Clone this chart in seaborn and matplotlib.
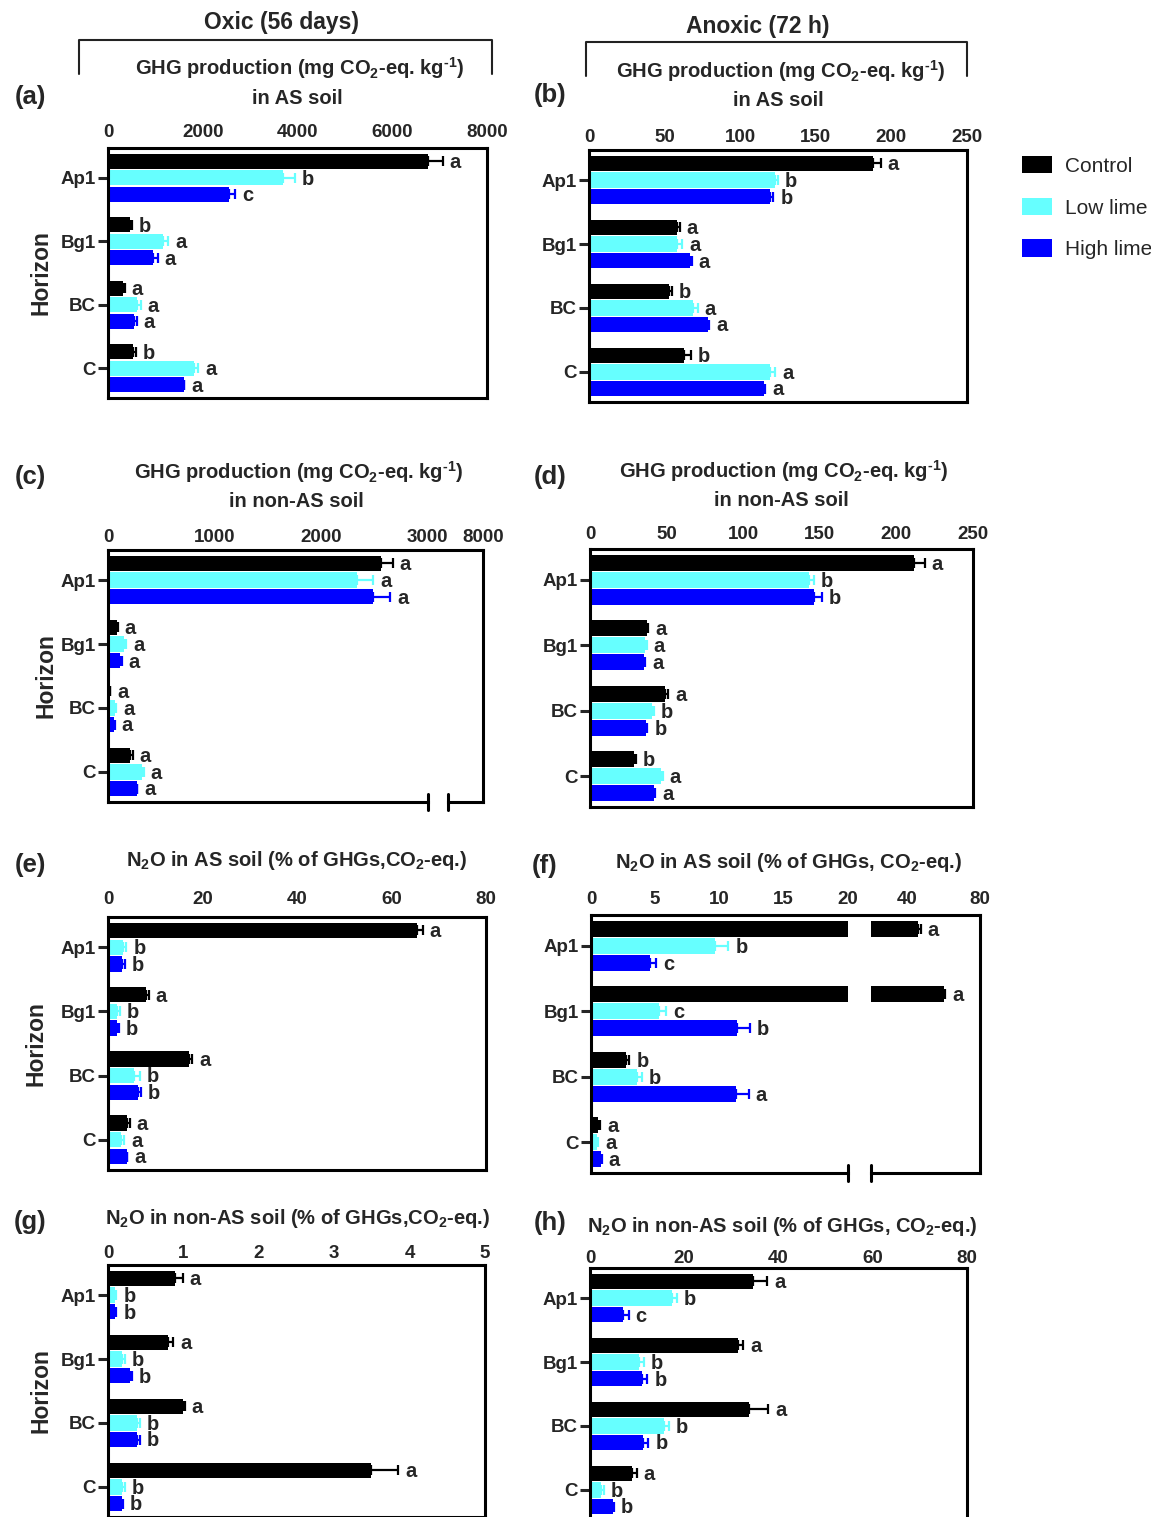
import numpy as np
import pandas as pd
import matplotlib
matplotlib.use("Agg")
import matplotlib.pyplot as plt
import seaborn as sns
from matplotlib.lines import Line2D
from matplotlib.patches import Patch
from matplotlib.container import BarContainer
from matplotlib.transforms import blended_transform_factory

# ---------------- data ----------------
horizons = ["Ap1", "Bg1", "BC", "C"]
treatments = ["Control", "Low lime", "High lime"]
colors = ["#000000", "#66ffff", "#0000ff"]

# (a) Oxic, GHG production, AS soil
a_ctrl = [6745, 465, 324, 536];   a_ctrl_err = [317, 40, 30, 50]
a_low = [3697, 1170, 607, 1806];  a_low_err = [247, 100, 80, 100]
a_high = [2547, 946, 550, 1594];  a_high_err = [141, 100, 60, 20]
a_let = [["a", "b", "a", "b"], ["b", "a", "a", "a"], ["c", "a", "a", "a"]]

# (b) Anoxic, GHG production, AS soil
b_ctrl = [188, 58, 53, 62.5];     b_ctrl_err = [5, 2, 2, 5]
b_low = [123, 58.5, 69, 120];     b_low_err = [2, 3, 3, 3]
b_high = [120, 67, 78.5, 116];    b_high_err = [2, 1, 1, 0.5]
b_let = [["a", "a", "b", "b"], ["b", "a", "a", "a"], ["b", "a", "a", "a"]]

# (c) Oxic, GHG production, non-AS soil
c_ctrl = [2560, 80, 15, 210];     c_ctrl_err = [110, 10, 5, 20]
c_low = [2340, 150, 65, 315];     c_low_err = [150, 20, 10, 20]
c_high = [2485, 110, 55, 270];    c_high_err = [160, 20, 10, 5]
c_let = [["a", "a", "a", "a"], ["a", "a", "a", "a"], ["a", "a", "a", "a"]]

# (d) Anoxic, GHG production, non-AS soil
d_ctrl = [211.5, 37, 49, 29];     d_ctrl_err = [7, 1, 2, 1]
d_low = [143, 36, 40.5, 46.5];    d_low_err = [3, 1, 1, 1]
d_high = [146.5, 35, 36.5, 42];   d_high_err = [5, 1, 1, 0.5]
d_let = [["a", "a", "a", "b"], ["b", "a", "b", "a"], ["b", "a", "b", "a"]]

# (e) Oxic, N2O share, AS soil
e_ctrl = [65.5, 8.0, 17.2, 4.0];  e_ctrl_err = [1.1, 0.6, 0.6, 0.6]
e_low = [3.2, 2.0, 5.5, 2.8];     e_low_err = [0.7, 0.5, 1.2, 0.6]
e_high = [2.9, 1.8, 6.3, 4.0];    e_high_err = [0.6, 0.5, 0.7, 0.1]
e_let = [["a", "a", "a", "a"], ["b", "b", "b", "a"], ["b", "b", "b", "a"]]

# (f) Anoxic, N2O share, AS soil
f_ctrl = [46, 60, 2.7, 0.55];     f_ctrl_err = [1.5, 1.0, 0.3, 0.15]
f_low = [9.7, 5.3, 3.6, 0.45];    f_low_err = [1.0, 0.55, 0.35, 0.1]
f_high = [4.6, 11.4, 11.3, 0.8];  f_high_err = [0.5, 1.0, 1.0, 0.05]
f_let = [["a", "a", "b", "a"], ["b", "c", "b", "a"], ["c", "b", "a", "a"]]

# (g) Oxic, N2O share, non-AS soil
g_ctrl = [0.89, 0.79, 1.0, 3.49]; g_ctrl_err = [0.1, 0.075, 0.02, 0.36]
g_low = [0.09, 0.19, 0.39, 0.19]; g_low_err = [0.02, 0.03, 0.03, 0.03]
g_high = [0.09, 0.29, 0.39, 0.19]; g_high_err = [0.02, 0.03, 0.03, 0.01]
g_let = [["a", "a", "a", "a"], ["b", "b", "b", "b"], ["b", "b", "b", "b"]]

# (h) Anoxic, N2O share, non-AS soil
h_ctrl = [34.5, 31.4, 33.7, 8.9]; h_ctrl_err = [3.1, 1.1, 4.1, 1.0]
h_low = [17.4, 10.3, 15.6, 2.4];  h_low_err = [1.0, 1.1, 1.1, 0.6]
h_high = [7.1, 11.1, 11.3, 4.9];  h_high_err = [1.1, 1.1, 1.1, 0.1]
h_let = [["a", "a", "a", "a"], ["b", "b", "b", "b"], ["c", "b", "b", "b"]]

a_ticks = [0, 2000, 4000, 6000, 8000]
b_ticks = [0, 50, 100, 150, 200, 250]
c_ticks = [0, 1000, 2000, 3000, 8000]
d_ticks = [0, 50, 100, 150, 200, 250]
e_ticks = [0, 20, 40, 60, 80]
f_ticks = [0, 5, 10, 15, 20, 40, 80]
g_ticks = [0, 1, 2, 3, 4, 5]
h_ticks = [0, 20, 40, 60, 80]

ghg1 = "GHG production (mg CO$_2$-eq. kg$^{\\text{-}1}$)"

# ---------------- style ----------------
sns.set_style("white")
plt.rcParams["font.family"] = ["Liberation Sans", "DejaVu Sans"]
plt.rcParams["font.weight"] = "bold"
plt.rcParams["mathtext.fontset"] = "custom"
plt.rcParams["mathtext.rm"] = "Liberation Sans:bold"
plt.rcParams["mathtext.it"] = "Liberation Sans:bold"
plt.rcParams["mathtext.bf"] = "Liberation Sans:bold"
plt.rcParams["mathtext.default"] = "rm"

W, H = 1151, 1517
fig = plt.figure(figsize=(W / 100, H / 100), dpi=100)
fig.patch.set_facecolor("white")

SP_LW = 2.2


def fx(x):
    return x / W


def fy(y):
    return 1 - y / H


def make_break(b, gap, r, eps):
    def fwd(x):
        x = np.asarray(x, dtype=float)
        return np.where(x <= b, x,
                        np.where(x <= b + eps, b + (x - b) * gap / eps,
                                 b + gap + (x - b - eps) * r))

    def inv(y):
        y = np.asarray(y, dtype=float)
        return np.where(y <= b, y,
                        np.where(y <= b + gap, b + (y - b) * eps / gap,
                                 b + eps + (y - b - gap) / r))
    return fwd, inv


panels = [
    dict(ctrl=a_ctrl, low=a_low, high=a_high, errs=(a_ctrl_err, a_low_err, a_high_err),
         lets=a_let, ticks=a_ticks, xmax=8000, box=(108, 148, 487, 398), ylab=41, pad=4.7, brk=None),
    dict(ctrl=b_ctrl, low=b_low, high=b_high, errs=(b_ctrl_err, b_low_err, b_high_err),
         lets=b_let, ticks=b_ticks, xmax=250, box=(589, 150, 967, 402), ylab=None, pad=3.2, brk=None),
    dict(ctrl=c_ctrl, low=c_low, high=c_high, errs=(c_ctrl_err, c_low_err, c_high_err),
         lets=c_let, ticks=c_ticks, xmax=8000, box=(108, 550, 483, 802), ylab=46, pad=3.2,
         brk=(3000, 188, 0.0659, 1.0)),
    dict(ctrl=d_ctrl, low=d_low, high=d_high, errs=(d_ctrl_err, d_low_err, d_high_err),
         lets=d_let, ticks=d_ticks, xmax=250, box=(590, 549, 973, 807), ylab=None, pad=4.0, brk=None),
    dict(ctrl=e_ctrl, low=e_low, high=e_high, errs=(e_ctrl_err, e_low_err, e_high_err),
         lets=e_let, ticks=e_ticks, xmax=80, box=(108, 917, 486, 1170), ylab=36, pad=6.8, brk=None),
    dict(ctrl=f_ctrl, low=f_low, high=f_high, errs=(f_ctrl_err, f_low_err, f_high_err),
         lets=f_let, ticks=f_ticks, xmax=80, box=(591, 915, 980, 1173), ylab=None, pad=4.7,
         brk=(20, 1.8, 0.142, 0.001)),
    dict(ctrl=g_ctrl, low=g_low, high=g_high, errs=(g_ctrl_err, g_low_err, g_high_err),
         lets=g_let, ticks=g_ticks, xmax=5, box=(108, 1265, 485, 1517), ylab=41, pad=1.8, brk=None),
    dict(ctrl=h_ctrl, low=h_low, high=h_high, errs=(h_ctrl_err, h_low_err, h_high_err),
         lets=h_let, ticks=h_ticks, xmax=80, box=(590, 1268, 967, 1520), ylab=None, pad=0.6, brk=None),
]

for p in panels:
    l, t, r, b = p["box"]
    ax = fig.add_axes([fx(l), fy(b), fx(r) - fx(l), fy(t) - fy(b)])
    df = pd.DataFrame({
        "Horizon": horizons * 3,
        "Treatment": [tr for tr in treatments for _ in horizons],
        "Value": list(p["ctrl"]) + list(p["low"]) + list(p["high"]),
    })
    sns.barplot(data=df, x="Value", y="Horizon", hue="Treatment", order=horizons,
                hue_order=treatments, palette=colors, saturation=1, orient="h",
                width=0.78, gap=0.08, errorbar=None, linewidth=0, legend=False, ax=ax)

    if p["brk"] is not None:
        bb, gap, rr, eps = p["brk"]
        fwd, inv = make_break(bb, gap, rr, eps)
        ax.set_xscale("function", functions=(fwd, inv))

    bar_conts = [c for c in ax.containers if isinstance(c, BarContainer)]
    for i, cont in enumerate(bar_conts):
        vals = np.array([bar.get_width() for bar in cont])
        ys = np.array([bar.get_y() + bar.get_height() / 2 for bar in cont])
        err = np.array(p["errs"][i])
        ax.errorbar(vals, ys, xerr=[np.zeros_like(err), err], fmt="none",
                    ecolor=colors[i], elinewidth=1.6, capsize=3.5, capthick=1.6, zorder=3)
        for v, y, e, s in zip(vals, ys, err, p["lets"][i]):
            ax.annotate(s, xy=(v + e, y), xytext=(5, -1), textcoords="offset points",
                        ha="left", va="center", fontsize=14.5, fontweight="bold", zorder=4)

    ax.set_xlim(0, p["xmax"])
    ax.set_ylim(3.47, -0.47)
    ax.xaxis.tick_top()
    ax.set_xticks(p["ticks"])
    ax.set_xticklabels([str(v) for v in p["ticks"]])
    ax.minorticks_off()
    ax.tick_params(axis="x", length=0, pad=p["pad"], labelsize=13.5)
    ax.tick_params(axis="y", length=7, width=2.2, pad=1.5, labelsize=13.5, left=True)
    ax.set_xlabel("")
    for sp in ax.spines.values():
        sp.set_linewidth(SP_LW)
        sp.set_color("black")
        sp.set_visible(True)
    if p["ylab"] is not None:
        ax.set_ylabel("Horizon", fontsize=16.5, fontweight="bold", va="center")
        ax.yaxis.set_label_coords((p["ylab"] - l) / (r - l), 0.5)
    else:
        ax.set_ylabel("")

    if p["brk"] is not None:
        bb, gap, rr, eps = p["brk"]
        ax.axvspan(bb, bb + eps, color="white", zorder=2, lw=0)
        ax.spines["bottom"].set_visible(False)
        trans = blended_transform_factory(ax.transData, ax.transAxes)
        ax.plot([0, bb], [0, 0], transform=trans, color="black", lw=SP_LW,
                clip_on=False, solid_capstyle="projecting", zorder=5)
        ax.plot([bb + eps, p["xmax"]], [0, 0], transform=trans, color="black", lw=SP_LW,
                clip_on=False, solid_capstyle="projecting", zorder=5)
        for xb in (bb, bb + eps):
            ax.plot([xb, xb], [-0.03, 0.03], transform=trans, color="black", lw=SP_LW,
                    clip_on=False, zorder=5)

# ---------------- titles and labels ----------------
titles = [
    (ghg1, 300, 68), ("in AS soil", 297, 98),
    (ghg1, 781, 71), ("in AS soil", 778, 100),
    (ghg1, 299, 472), ("in non-AS soil", 296, 502),
    (ghg1, 784, 471), ("in non-AS soil", 781, 501),
    ("N$_2$O in AS soil (% of GHGs,CO$_2$-eq.)", 297, 860),
    ("N$_2$O in AS soil (% of GHGs, CO$_2$-eq.)", 788, 862),
    ("N$_2$O in non-AS soil (% of GHGs,CO$_2$-eq.)", 297, 1218),
    ("N$_2$O in non-AS soil (% of GHGs, CO$_2$-eq.)", 782, 1227),
]
for s, x, y in titles:
    fig.text(fx(x), fy(y), s, ha="center", va="center", fontsize=14.5, fontweight="bold")

letters = [("(a)", 30, 97), ("(b)", 550, 95), ("(c)", 30, 477), ("(d)", 550, 477),
           ("(e)", 30, 865), ("(f)", 545, 866), ("(g)", 30, 1222), ("(h)", 550, 1223)]
for s, x, y in letters:
    fig.text(fx(x), fy(y), s, ha="center", va="center", fontsize=18.5, fontweight="bold")

fig.text(fx(281), fy(23), "Oxic (56 days)", ha="center", va="center", fontsize=16.5, fontweight="bold")
fig.text(fx(758), fy(26), "Anoxic (72 h)", ha="center", va="center", fontsize=16.5, fontweight="bold")

for (x0, x1, y0, y1) in [(79, 492, 40, 74), (586, 967, 42, 76)]:
    fig.add_artist(Line2D([fx(x0), fx(x0), fx(x1), fx(x1)], [fy(y1), fy(y0), fy(y0), fy(y1)],
                          transform=fig.transFigure, color="#222222", lw=1.5))

handles = [Patch(facecolor=c, edgecolor="none") for c in colors]
fig.legend(handles, treatments, loc="upper left", bbox_to_anchor=(fx(1022), fy(156)),
           frameon=False, handlelength=1.45, handleheight=0.9, handletextpad=0.6,
           labelspacing=1.05, borderpad=0, borderaxespad=0,
           prop={"weight": "normal", "size": 15})

fig.savefig("out.png", dpi=100, facecolor="white")
